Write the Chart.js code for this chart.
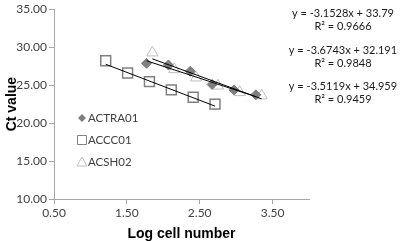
<!DOCTYPE html>
<html>
<head>
<meta charset="utf-8">
<script src="https://cdn.jsdelivr.net/npm/chart.js@4.4.1/dist/chart.umd.min.js"></script>
<style>
  html, body { margin: 0; padding: 0; background: #fff; }
</style>
</head>
<body>
<canvas id="chart" width="400" height="241"></canvas>
<script>
// series names, in legend order
const seriesNames = ['ACTRA01', 'ACCC01', 'ACSH02'];

// measured points (log cell number, Ct)
const actraX = [1.77, 2.07, 2.37, 2.67, 2.97, 3.27];
const actraY = [27.87, 27.65, 26.82, 25.08, 24.37, 23.72];
const acccX = [1.21, 1.51, 1.81, 2.11, 2.41, 2.71];
const acccY = [28.21, 26.59, 25.46, 24.37, 23.40, 22.50];
const acshX = [1.85, 2.15, 2.45, 2.75, 3.05, 3.35];
const acshY = [29.27, 27.07, 25.98, 24.91, 24.05, 23.62];

// linear trendlines as printed on the chart
const fitSlopes = [-3.1528, -3.6743, -3.5119];
const fitIntercepts = [33.79, 32.191, 34.959];
const fitEquations = ['y = -3.1528x + 33.79', 'y = -3.6743x + 32.191', 'y = -3.5119x + 34.959'];
const fitR2 = ['R\u00b2 = 0.9666', 'R\u00b2 = 0.9848', 'R\u00b2 = 0.9459'];

// axis ticks
const xTicks = [0.5, 1.5, 2.5, 3.5];
const yTicks = [10, 15, 20, 25, 30, 35];

const allX = [actraX, acccX, acshX];
const allY = [actraY, acccY, acshY];

const toPoints = (xs, ys) => xs.map((x, i) => ({ x: x, y: ys[i] }));

// trendline goes from first to last x of each series
function fitLine(k) {
  const xs = allX[k];
  const x0 = xs[0], x1 = xs[xs.length - 1];
  return [
    { x: x0, y: fitSlopes[k] * x0 + fitIntercepts[k] },
    { x: x1, y: fitSlopes[k] * x1 + fitIntercepts[k] }
  ];
}

const markerStyles = [
  { pointStyle: 'rectRot', radius: 5, bg: '#7f7f7f', border: '#7f7f7f', bw: 1 },
  { pointStyle: 'rect', radius: 7, bg: 'rgba(0,0,0,0)', border: '#808080', bw: 1.5 },
  { pointStyle: 'triangle', radius: 6.5, bg: 'rgba(0,0,0,0)', border: '#bfbfbf', bw: 1 }
];

const datasets = [];
seriesNames.forEach((name, k) => {
  const m = markerStyles[k];
  datasets.push({
    type: 'scatter',
    label: name,
    data: toPoints(allX[k], allY[k]),
    pointStyle: m.pointStyle,
    pointRadius: m.radius,
    pointHoverRadius: m.radius,
    backgroundColor: m.bg,
    borderColor: m.border,
    borderWidth: m.bw,
    order: 2
  });
});
seriesNames.forEach((name, k) => {
  datasets.push({
    type: 'line',
    label: 'Linear (' + name + ')',
    data: fitLine(k),
    borderColor: '#000',
    borderWidth: 1,
    pointRadius: 0,
    fill: false,
    order: 1
  });
});

// legend inside the plot + trendline equations on the right
const overlayPlugin = {
  id: 'overlay',
  afterDraw(chart) {
    const ctx = chart.ctx;
    const area = chart.chartArea;
    ctx.save();

    // legend
    const lx = area.left + 28;
    const ly = [118, 140, 162];
    ctx.font = '11.5px Lato';
    ctx.textBaseline = 'middle';
    ctx.textAlign = 'left';
    seriesNames.forEach((name, k) => {
      const y = ly[k];
      ctx.beginPath();
      if (k === 0) {
        ctx.moveTo(lx, y - 4); ctx.lineTo(lx + 4, y); ctx.lineTo(lx, y + 4); ctx.lineTo(lx - 4, y);
        ctx.closePath();
        ctx.fillStyle = '#7f7f7f';
        ctx.fill();
      } else if (k === 1) {
        ctx.rect(lx - 4.5, y - 4.5, 9, 9);
        ctx.strokeStyle = '#808080';
        ctx.lineWidth = 1;
        ctx.stroke();
      } else {
        ctx.moveTo(lx, y - 5); ctx.lineTo(lx + 5, y + 4); ctx.lineTo(lx - 5, y + 4);
        ctx.closePath();
        ctx.strokeStyle = '#bfbfbf';
        ctx.lineWidth = 1;
        ctx.stroke();
      }
      ctx.fillStyle = '#404040';
      ctx.fillText(name, lx + 6, y + 0.5);
    });

    // equations
    const ex = 343;
    const ey = [13, 50, 86];
    ctx.font = '11px Lato';
    ctx.fillStyle = '#1a1a1a';
    ctx.textAlign = 'center';
    fitEquations.forEach((eq, k) => {
      ctx.fillText(eq, ex, ey[k]);
      ctx.fillText(fitR2[k], ex, ey[k] + 13);
    });
    ctx.restore();
  }
};

new Chart(document.getElementById('chart'), {
  data: { datasets: datasets },
  plugins: [overlayPlugin],
  options: {
    responsive: false,
    animation: false,
    layout: { padding: { left: 0, top: 5, right: 91, bottom: 0 } },
    plugins: {
      legend: { display: false },
      tooltip: { enabled: false }
    },
    scales: {
      x: {
        type: 'linear',
        min: 0.5,
        max: 4,
        afterBuildTicks: s => { s.ticks = xTicks.map(v => ({ value: v })); },
        afterFit: s => { s.height = 42; },
        grid: { drawOnChartArea: false, tickLength: 5, color: '#a6a6a6' },
        border: { color: '#a6a6a6' },
        ticks: {
          font: { family: 'Lato', size: 12 },
          color: '#404040',
          padding: 2,
          maxRotation: 0,
          autoSkip: false,
          callback: v => Number(v).toFixed(2)
        },
        title: {
          display: true,
          text: 'Log cell number',
          font: { family: 'Liberation Sans', size: 14, weight: 'bold', lineHeight: 1 },
          color: '#000',
          padding: { top: 2, bottom: 0 }
        }
      },
      y: {
        type: 'linear',
        min: 10,
        max: 35,
        afterBuildTicks: s => { s.ticks = yTicks.map(v => ({ value: v })); },
        afterFit: s => { s.width = 54; },
        grid: { drawOnChartArea: false, tickLength: 5, color: '#a6a6a6' },
        border: { color: '#a6a6a6' },
        ticks: {
          font: { family: 'Lato', size: 12 },
          color: '#404040',
          padding: 2,
          callback: v => Number(v).toFixed(2)
        },
        title: {
          display: true,
          text: 'Ct value',
          font: { family: 'Liberation Sans', size: 14, weight: 'bold', lineHeight: 1 },
          color: '#000',
          padding: { top: 5, bottom: 0 }
        }
      }
    }
  }
});
</script>
</body>
</html>
